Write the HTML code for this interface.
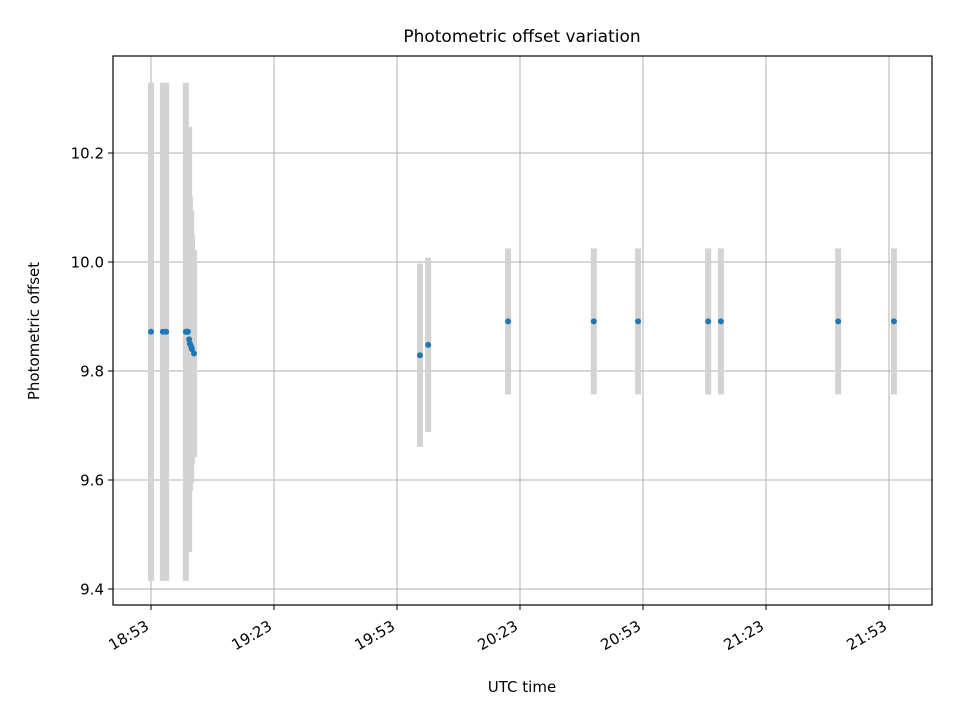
<!DOCTYPE html>
<html><head><meta charset="utf-8"><style>
body{margin:0;background:#fff}
svg text{font-family:"DejaVu Sans","Liberation Sans",sans-serif;fill:#000}
</style></head><body>
<svg id="chart" width="960" height="720">
<rect width="960" height="720" fill="#fff"/>
<g id="grid"></g>
<g id="errs"></g>
<g id="pts"></g>
<rect x="113" y="56" width="819" height="549" fill="none" stroke="#000" stroke-width="1.2"/>
<g id="ticks"></g>
<text x="522" y="42" font-size="17" text-anchor="middle">Photometric offset variation</text>
<text x="522" y="692" font-size="15" text-anchor="middle">UTC time</text>
<text transform="translate(39,331) rotate(-90)" font-size="15" text-anchor="middle">Photometric offset</text>
</svg>
<script>
// minutes after 18:53 UTC
const times=[0,2.9,3.7,8.5,8.8,9.0,9.3,9.5,9.8,10.0,10.5,65.6,67.6,87.1,108,118.8,135.9,139,167.6,181.2];
const offsets=[9.872,9.872,9.872,9.872,9.872,9.872,9.858,9.850,9.845,9.840,9.832,9.829,9.848,9.891,9.891,9.891,9.891,9.891,9.891,9.891];
const errors=[0.457,0.457,0.457,0.457,0.37,0.31,0.39,0.27,0.25,0.21,0.19,0.168,0.16,0.134,0.134,0.134,0.134,0.134,0.134,0.134];
const yTicks=[9.4,9.6,9.8,10.0,10.2];
const xTickMins=[0,30,60,90,120,150,180];
const xTickLabels=["18:53","19:23","19:53","20:23","20:53","21:23","21:53"];
const NS="http://www.w3.org/2000/svg";
const X=m=>151+m*4.1;
const Y=v=>589-(v-9.4)*545;
function mk(t,a,p){const e=document.createElementNS(NS,t);for(const k in a)e.setAttribute(k,a[k]);p.appendChild(e);return e;}
const grid=document.getElementById('grid'),ticks=document.getElementById('ticks');
yTicks.forEach(v=>{
  const l=mk('line',{x1:113,x2:932,y1:Y(v),y2:Y(v),stroke:'#b0b0b0','stroke-width':1},grid);
  
  
  const t=mk('line',{x1:108,x2:113,y1:Y(v),y2:Y(v),stroke:'#000'},ticks);
  
  
  const tx=mk('text',{x:104,y:Y(v)+5.5,'font-size':15,'text-anchor':'end'},ticks);
  tx.textContent=v.toFixed(1);
  
  
});
xTickMins.forEach((m,i)=>{
  const l=mk('line',{x1:X(m),x2:X(m),y1:56,y2:605,stroke:'#b0b0b0','stroke-width':1},grid);
  
  
  const t=mk('line',{x1:X(m),x2:X(m),y1:605,y2:610,stroke:'#000'},ticks);
  
  
  const tx=mk('text',{transform:`translate(${X(m)-1},${629}) rotate(-30)`,'font-size':15,'text-anchor':'end'},ticks);
  tx.textContent=xTickLabels[i];
  
  
});
const errs=document.getElementById('errs'),pts=document.getElementById('pts');
times.forEach((m,i)=>{
  const e=mk('line',{x1:X(m),x2:X(m),y1:Y(offsets[i]+errors[i]),y2:Y(offsets[i]-errors[i]),stroke:'#d3d3d3','stroke-width':6},errs);
  
  
  const c=mk('circle',{cx:X(m),cy:Y(offsets[i]),r:3,fill:'#1f77b4'},pts);
  
  
});
</script>
</body></html>
